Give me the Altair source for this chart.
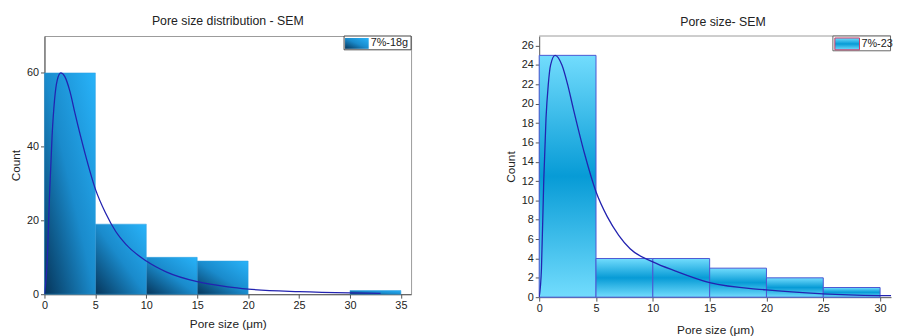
import altair as alt
import pandas as pd

FONT = "Liberation Sans"

# ---------------- data: left panel (7%-18g) ----------------
l_bin_start = [0, 5, 10, 15, 30]
l_bin_end = [5, 10, 15, 20, 35]
l_count = [60, 19, 10, 9, 1]
l_fit_x = [0, 0.25, 0.5, 0.75, 1.0, 1.25, 1.6, 2.0, 2.5, 3.0, 4.0, 5.0, 6.0, 7.0, 8.0, 10.0, 12.0, 15.0, 18.0, 20.0, 25.0, 30.0, 33.0]
l_fit_y = [0, 8, 27, 43, 53, 58, 60, 59, 55, 49, 38, 28.5, 22, 17, 13.5, 9, 6, 3.4, 2.0, 1.4, 0.7, 0.35, 0.25]

# ---------------- data: right panel (7%-23g) ----------------
r_bin_start = [0, 5, 10, 15, 20, 25]
r_bin_end = [5, 10, 15, 20, 25, 30]
r_count = [25, 4, 4, 3, 2, 1]
r_fit_x = [0, 0.2, 0.4, 0.6, 0.8, 1.0, 1.4, 2.0, 2.5, 3.0, 4.0, 5.0, 6.0, 7.0, 8.0, 10.0, 12.0, 15.0, 20.0, 25.0, 30.0, 32.0]
r_fit_y = [0, 3, 12, 18.5, 22, 24, 25, 24, 22, 19.5, 14.8, 10.9, 8.3, 6.4, 5.0, 3.65, 2.7, 1.5, 0.75, 0.35, 0.17, 0.14]

titles = ["Pore size distribution - SEM", "Pore size- SEM"]
legend_labels = ["7%-18g", "7%-23"]   # right legend is cut at the image edge in the reference
x_title = "Pore size (μm)"
y_title = "Count"
l_xticks = [0, 5, 10, 15, 20, 25, 30, 35]
l_yticks = [0, 20, 40, 60]
r_xticks = [0, 5, 10, 15, 20, 25, 30]
r_yticks = [0, 2, 4, 6, 8, 10, 12, 14, 16, 18, 20, 22, 24, 26]

l_bars = pd.DataFrame({"start": l_bin_start, "end": l_bin_end, "count": l_count})
l_fit = pd.DataFrame({"x": l_fit_x, "y": l_fit_y})
r_bars = pd.DataFrame({"start": r_bin_start, "end": r_bin_end, "count": r_count})
r_fit = pd.DataFrame({"x": r_fit_x, "y": r_fit_y})
one = pd.DataFrame({"a": [0]})

CURVE = "#2323b0"
AX = "#555555"

left_grad = alt.Gradient(
    gradient="linear",
    stops=[alt.GradientStop(offset=0, color="#06355a"),
           alt.GradientStop(offset=0.5, color="#1a8bcc"),
           alt.GradientStop(offset=1, color="#28b3f9")],
    x1=0, y1=1, x2=1, y2=0)
right_grad = alt.Gradient(
    gradient="linear",
    stops=[alt.GradientStop(offset=0, color="#72dcfd"),
           alt.GradientStop(offset=0.5, color="#079bd6"),
           alt.GradientStop(offset=1, color="#72dcfd")],
    x1=0, y1=0, x2=0, y2=1)

def axis_x(values, tpad):
    return alt.Axis(values=values, title=x_title, grid=False, tickSize=4, labelPadding=2,
                    domainColor=AX, tickColor=AX, labelFont=FONT, labelFontSize=11,
                    labelColor="#222", titleFont=FONT, titleFontSize=12,
                    titleFontWeight="normal", titleColor="#222", titlePadding=tpad,
                    labelFlush=False, labelOverlap=False)

def axis_y(values):
    return alt.Axis(values=values, title=y_title, grid=False, tickSize=4, labelPadding=2,
                    domainColor=AX, tickColor=AX, labelFont=FONT, labelFontSize=11,
                    labelColor="#222", titleFont=FONT, titleFontSize=12,
                    titleFontWeight="normal", titleColor="#222", titlePadding=4,
                    labelFlush=False, labelOverlap=False)

# ---------------- left panel ----------------
LW, LH = 372, 262
lx = alt.Scale(domain=[0, 36], nice=False)
ly = alt.Scale(domain=[0, 70], nice=False)
lax_x = axis_x(l_xticks, 8)
lax_y = axis_y(l_yticks)

l_bar = alt.Chart(l_bars).mark_rect(color=left_grad, stroke="#2a9ee0", strokeWidth=0.5).encode(
    x=alt.X("start:Q", scale=lx, axis=lax_x),
    x2="end:Q",
    y=alt.Y("count:Q", scale=ly, axis=lax_y),
    y2=alt.datum(0),
)
l_line = alt.Chart(l_fit).mark_line(color=CURVE, strokeWidth=1.3, interpolate="monotone", clip=True).encode(
    x=alt.X("x:Q", scale=lx, axis=lax_x), y=alt.Y("y:Q", scale=ly, axis=lax_y))
l_leg_box = alt.Chart(one).mark_rect(fill="white", stroke="#444", strokeWidth=1).encode(
    x=alt.value(304), x2=alt.value(372), y=alt.value(0), y2=alt.value(14))
l_leg_sw = alt.Chart(one).mark_rect(color=left_grad).encode(
    x=alt.value(305), x2=alt.value(329), y=alt.value(2), y2=alt.value(13))
l_leg_tx = alt.Chart(one).mark_text(text=legend_labels[0], font=FONT, fontSize=11, align="left",
                                    baseline="middle", color="#222").encode(
    x=alt.value(331), y=alt.value(7.5))

left = alt.layer(l_bar, l_line, l_leg_box, l_leg_sw, l_leg_tx).properties(
    width=LW, height=LH,
    title=alt.TitleParams(titles[0], font=FONT, fontSize=12.5, fontWeight="normal",
                          color="#222", offset=8),
    view=alt.ViewBackground(stroke="#9a9a9a", strokeWidth=1))

# ---------------- right panel ----------------
RW, RH = 357, 265
rx = alt.Scale(domain=[0, 357 / 11.53], nice=False)
ry = alt.Scale(domain=[0, 27], nice=False)
rax_x = axis_x(r_xticks, 11)
rax_y = axis_y(r_yticks)

r_bar = alt.Chart(r_bars).mark_rect(color=right_grad, stroke="#4b56d2", strokeWidth=1).encode(
    x=alt.X("start:Q", scale=rx, axis=rax_x),
    x2="end:Q",
    y=alt.Y("count:Q", scale=ry, axis=rax_y),
    y2=alt.datum(0),
)
r_line = alt.Chart(r_fit).mark_line(color=CURVE, strokeWidth=1.3, interpolate="monotone", clip=True).encode(
    x=alt.X("x:Q", scale=rx, axis=rax_x), y=alt.Y("y:Q", scale=ry, axis=rax_y))
r_top = alt.Chart(one).mark_rule(color="#9a9a9a", strokeWidth=1).encode(
    x=alt.value(0), x2=alt.value(RW), y=alt.value(0))
r_leg_box = alt.Chart(one).mark_rect(fill="white", stroke="#666", strokeWidth=1).encode(
    x=alt.value(298), x2=alt.value(RW - 0.5), y=alt.value(0), y2=alt.value(15))
r_leg_sw = alt.Chart(one).mark_rect(color=right_grad, stroke="#c83a6a", strokeWidth=1).encode(
    x=alt.value(300), x2=alt.value(325), y=alt.value(2), y2=alt.value(14))
r_leg_tx = alt.Chart(one).mark_text(text=legend_labels[1], font=FONT, fontSize=11, align="left",
                                    baseline="middle", color="#222").encode(
    x=alt.value(327), y=alt.value(8))

right = alt.layer(r_bar, r_line, r_top, r_leg_box, r_leg_sw, r_leg_tx).properties(
    width=RW, height=RH,
    title=alt.TitleParams(titles[1], font=FONT, fontSize=12.5, fontWeight="normal",
                          color="#222", offset=7, dx=8),
    view=alt.ViewBackground(stroke=None))

chart = alt.hconcat(left, right, spacing=93).properties(
    padding={"left": 1, "top": 4, "right": 0, "bottom": 0},
    background="white")

chart.save("out.html", embed_options={"renderer": "svg", "actions": False})
